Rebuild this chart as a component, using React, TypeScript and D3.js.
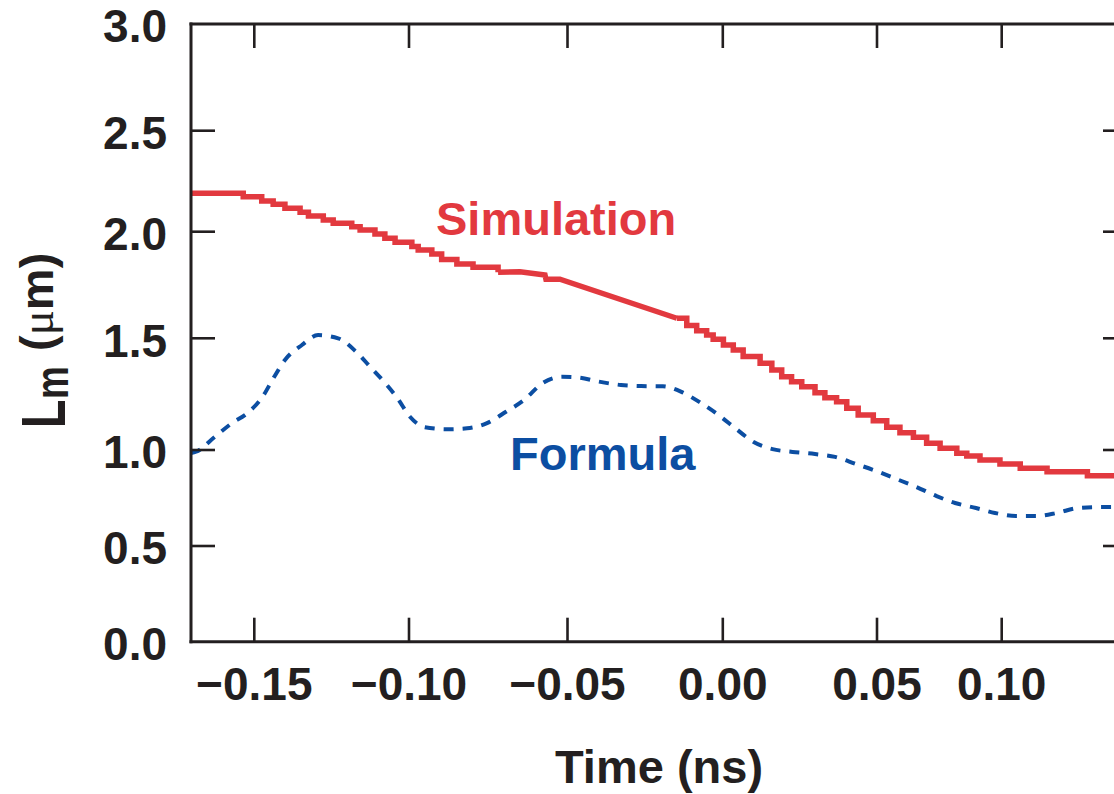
import React from 'react';
import * as d3 from 'd3';

// L_m (um) against time (ns).
// The simulation curve is a staircase, except for one smooth ramp in the middle.
const simStepsEarly: [number, number][] = [
  [-0.17, 2.19], [-0.1535, 2.173], [-0.1476, 2.152], [-0.1439, 2.136], [-0.1401, 2.116],
  [-0.1352, 2.096], [-0.1325, 2.078], [-0.1277, 2.058], [-0.1245, 2.042], [-0.1185, 2.025],
  [-0.1158, 2.008], [-0.111, 1.989], [-0.1078, 1.969], [-0.1045, 1.95], [-0.0991, 1.93],
  [-0.0971, 1.914], [-0.0928, 1.895], [-0.0897, 1.87], [-0.0849, 1.849], [-0.0798, 1.833],
  [-0.0719, 1.81],
];

const simRamp: [number, number][] = [
  [-0.0719, 1.81], [-0.065, 1.812], [-0.0571, 1.797], [-0.0568, 1.777], [-0.0524, 1.777],
  [-0.0148, 1.594],
];

const simStepsLate: [number, number][] = [
  [-0.0148, 1.594], [-0.0116, 1.56], [-0.0084, 1.535], [-0.0052, 1.515], [-0.0031, 1.496],
  [0.0002, 1.47], [0.0034, 1.448], [0.0066, 1.418], [0.0121, 1.388], [0.0159, 1.358],
  [0.0191, 1.328], [0.0223, 1.306], [0.0256, 1.283], [0.0299, 1.256], [0.0331, 1.234],
  [0.0369, 1.216], [0.0402, 1.187], [0.0439, 1.157], [0.0488, 1.131], [0.0539, 1.102],
  [0.0592, 1.077], [0.0646, 1.057], [0.0699, 1.03], [0.0753, 1.008], [0.082, 0.983],
  [0.086, 0.969], [0.0913, 0.948], [0.0993, 0.927], [0.1074, 0.905], [0.1181, 0.887],
  [0.1342, 0.866], [0.15, 0.866],
];

const formula: [number, number][] = [
  [-0.17, 0.984], [-0.1684, 0.991], [-0.1624, 1.06], [-0.157, 1.121], [-0.1521, 1.166],
  [-0.1473, 1.239], [-0.1438, 1.322], [-0.1401, 1.403], [-0.1346, 1.47], [-0.1294, 1.515],
  [-0.1229, 1.5], [-0.1171, 1.44], [-0.1126, 1.373], [-0.1081, 1.306], [-0.1037, 1.231],
  [-0.0997, 1.149], [-0.095, 1.102], [-0.088, 1.093], [-0.0817, 1.097], [-0.0754, 1.12],
  [-0.0694, 1.171], [-0.0637, 1.224], [-0.0579, 1.299], [-0.0517, 1.328], [-0.0466, 1.325],
  [-0.0399, 1.306], [-0.0328, 1.291], [-0.0263, 1.286], [-0.0193, 1.285], [-0.0133, 1.26],
  [-0.007, 1.21], [-0.0014, 1.157], [0.004, 1.098], [0.01, 1.036], [0.0161, 1.004],
  [0.0226, 0.99], [0.0299, 0.979], [0.0364, 0.964], [0.0432, 0.927], [0.0497, 0.891],
  [0.0578, 0.849], [0.0658, 0.807], [0.0739, 0.76], [0.0813, 0.724], [0.0897, 0.698],
  [0.0973, 0.672], [0.1057, 0.656], [0.1138, 0.656], [0.122, 0.672], [0.1305, 0.698],
  [0.1391, 0.703], [0.146, 0.703],
];

const xTicks = [-0.15, -0.1, -0.05, 0, 0.05, 0.1];
const xTickLabels = ['\u22120.15', '\u22120.10', '\u22120.05', '0.00', '0.05', '0.10'];
const yTicks = [0, 0.5, 1, 1.5, 2, 2.5, 3];
const yTickLabels = ['0.0', '0.5', '1.0', '1.5', '2.0', '2.5', '3.0'];

const W = 1114;
const H = 794;
const INK = '#231f20';
const RED = '#e2393f';
const BLUE = '#0c4ea2';
const FONT = '"Liberation Sans", Arial, Helvetica, sans-serif';
const TICK = 24;

// the printed axes are not evenly spaced, so each scale is pinned on every tick
const x = d3.scaleLinear()
  .domain([-0.17, -0.15, -0.1, -0.05, 0, 0.05, 0.1, 0.15])
  .range([191, 254.3, 409, 567.5, 722.8, 877, 1001.7, 1127]);
const y = d3.scaleLinear()
  .domain([0, 0.5, 1, 1.5, 2, 2.5, 3])
  .range([641.7, 546, 450, 338.3, 231.7, 130.7, 24]);

export default function App() {
  const left = x(-0.17);
  const right = x(0.15);
  const top = y(3);
  const bottom = y(0);

  const stepLine = d3.line<[number, number]>()
    .x(d => x(d[0]))
    .y(d => y(d[1]))
    .curve(d3.curveStepAfter);
  const straightLine = d3.line<[number, number]>()
    .x(d => x(d[0]))
    .y(d => y(d[1]));
  const smoothLine = d3.line<[number, number]>()
    .x(d => x(d[0]))
    .y(d => y(d[1]))
    .curve(d3.curveMonotoneX);

  return (
    <svg width={W} height={H} style={{ position: 'absolute', left: 0, top: 0, background: '#fff' }}>
      <rect width={W} height={H} fill="#fff" />

      {/* data */}
      <path d={smoothLine(formula) ?? ''} fill="none" stroke={BLUE} strokeWidth={4} strokeDasharray="10 9" />
      <g fill="none" stroke={RED} strokeWidth={5.5}>
        <path d={stepLine(simStepsEarly) ?? ''} />
        <path d={straightLine(simRamp) ?? ''} />
        <path d={stepLine(simStepsLate) ?? ''} />
      </g>

      {/* frame */}
      <g stroke={INK} strokeWidth={3} strokeLinecap="square">
        <line x1={left} x2={right} y1={top} y2={top} />
        <line x1={left} x2={right} y1={bottom} y2={bottom} />
        <line x1={left} x2={left} y1={top} y2={bottom} />
        <line x1={right} x2={right} y1={top} y2={bottom} />
      </g>

      {/* ticks on all four sides, pointing in */}
      <g stroke={INK} strokeWidth={2.6}>
        {xTicks.map(t => (
          <g key={'x' + t}>
            <line x1={x(t)} x2={x(t)} y1={bottom} y2={bottom - TICK} />
            <line x1={x(t)} x2={x(t)} y1={top} y2={top + TICK} />
          </g>
        ))}
        {yTicks.slice(1, -1).map(v => (
          <g key={'y' + v}>
            <line x1={left} x2={left + TICK} y1={y(v)} y2={y(v)} />
            <line x1={right} x2={right - TICK} y1={y(v)} y2={y(v)} />
          </g>
        ))}
      </g>

      {/* tick labels */}
      <g fontFamily={FONT} fontWeight="bold" fontSize={46} fill={INK}>
        {xTicks.map((t, i) => (
          <text key={'xl' + t} x={x(t)} y={700} textAnchor="middle">{xTickLabels[i]}</text>
        ))}
        {yTicks.map((v, i) => (
          <text key={'yl' + v} x={167} y={y(v)} dy="0.4em" textAnchor="end">{yTickLabels[i]}</text>
        ))}
      </g>

      {/* axis titles */}
      <text x={659} y={783} textAnchor="middle" fontFamily={FONT} fontWeight="bold" fontSize={47} fill={INK}>
        Time (ns)
      </text>
      <g transform="translate(65,425) rotate(-90)" fontFamily={FONT} fontWeight="bold" fill={INK}>
        <g transform="scale(0.75,1)">
          <text x={-4} y={0} fontSize={62}>L</text>
        </g>
        <g transform="translate(26,3) scale(0.8,1)">
          <text x={0} y={0} fontSize={46}>m</text>
        </g>
        <text x={74} y={-12} fontSize={47}>
          (<tspan fontFamily='"Liberation Serif", "DejaVu Serif", serif' fontWeight="normal">μ</tspan>m)
        </text>
      </g>

      {/* series labels */}
      <text x={436} y={235} fontFamily={FONT} fontWeight="bold" fontSize={47} fill={RED}>Simulation</text>
      <text x={510} y={470} fontFamily={FONT} fontWeight="bold" fontSize={47} fill={BLUE}>Formula</text>
    </svg>
  );
}
